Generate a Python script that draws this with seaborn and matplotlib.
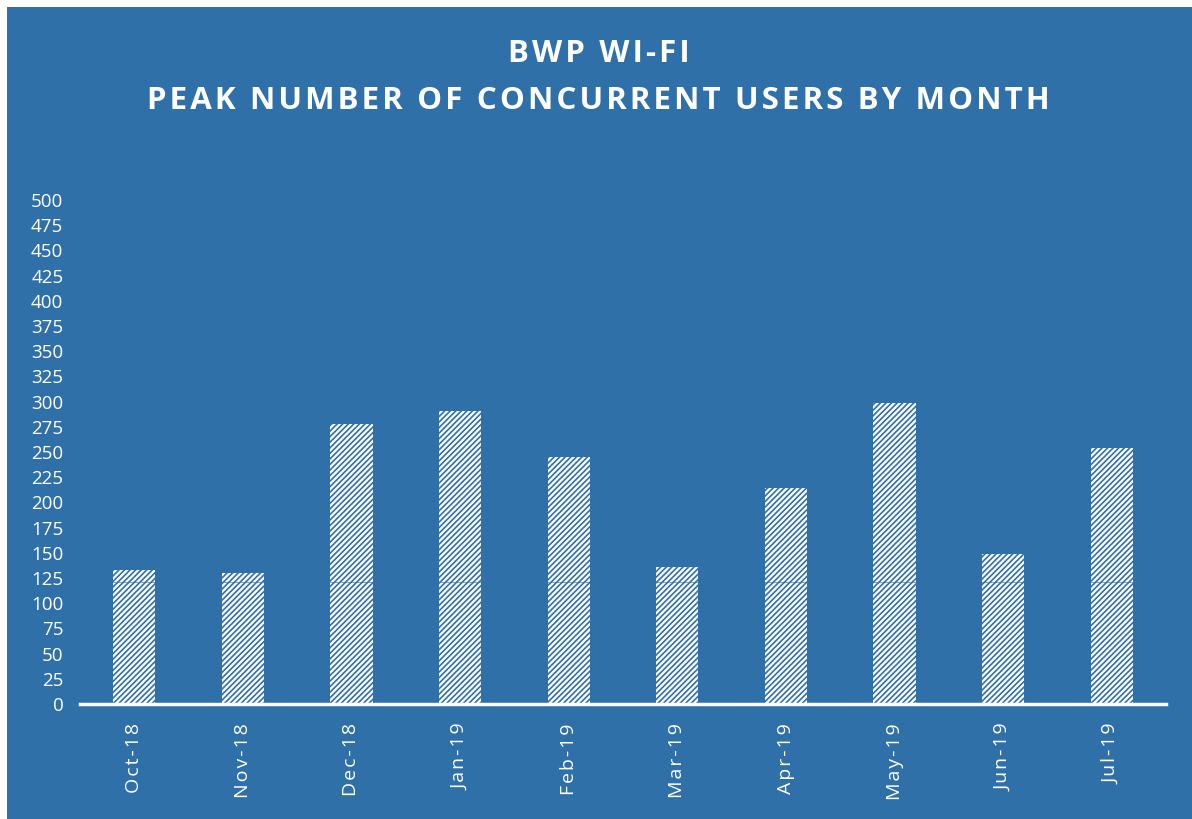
import pandas as pd
import matplotlib.pyplot as plt
import seaborn as sns
from matplotlib.patches import Rectangle

# Peak concurrent users
months = ['Oct-18', 'Nov-18', 'Dec-18', 'Jan-19', 'Feb-19',
          'Mar-19', 'Apr-19', 'May-19', 'Jun-19', 'Jul-19']
users = [133, 130, 278, 291, 245, 136, 214, 299, 149, 254]
yticks = list(range(0, 501, 25))

df = pd.DataFrame({'Month': months, 'Users': users})

blue = '#3070a8'


def spaced(s, gap='\u200a'):
    # fake letter spacing with hair spaces
    return gap.join(s)


sns.set_style("white")
plt.rcParams['font.family'] = ['Open Sans', 'DejaVu Sans']
plt.rcParams['hatch.linewidth'] = 1.2

fig = plt.figure(figsize=(11.92, 8.19), dpi=100, facecolor='white')
# scanned page: thin white margin at top and left
fig.patches.append(Rectangle((7 / 1192, 0), 1, 1 - 7 / 819,
                             transform=fig.transFigure, facecolor=blue,
                             edgecolor='none', zorder=-10))

ax = fig.add_axes([80 / 1192, 1 - 704 / 819, 1086 / 1192, 504 / 819])
ax.set_facecolor('none')

sns.barplot(data=df, x='Month', y='Users', color='white', width=0.39,
            saturation=1, ax=ax)
for bar in ax.patches:
    bar.set_facecolor('white')
    bar.set_edgecolor(blue)
    bar.set_linewidth(0)
    bar.set_hatch('//////')

# faint line that shows across the bars in the original
ax.axhline(121, color=blue, lw=0.8, alpha=0.6, zorder=3)

ax.set_xlim(-0.5, len(months) - 0.5)
ax.set_ylim(0, 500)
ax.set_yticks(yticks)
ax.set_xticks(range(len(months)))
ax.set_xticklabels([spaced(m) for m in months])
ax.set_xlabel('')
ax.set_ylabel('')

for s in ['top', 'right', 'left']:
    ax.spines[s].set_visible(False)
ax.spines['bottom'].set_color('white')
ax.spines['bottom'].set_linewidth(2.5)

ax.tick_params(axis='y', colors='white', labelsize=13.5, length=0, pad=12)
ax.tick_params(axis='x', colors='white', labelsize=14, length=0, pad=14,
               labelrotation=90)

fig.text(0.502, 1 - 54 / 819, spaced('BWP WI-FI'), color='white',
         fontsize=22.5, weight='bold', ha='center', va='center')
fig.text(0.502, 1 - 101 / 819,
         spaced('PEAK NUMBER OF CONCURRENT USERS BY MONTH'),
         color='white', fontsize=22.5, weight='bold', ha='center', va='center')

fig.savefig('out.png', dpi=100, facecolor=fig.get_facecolor())
